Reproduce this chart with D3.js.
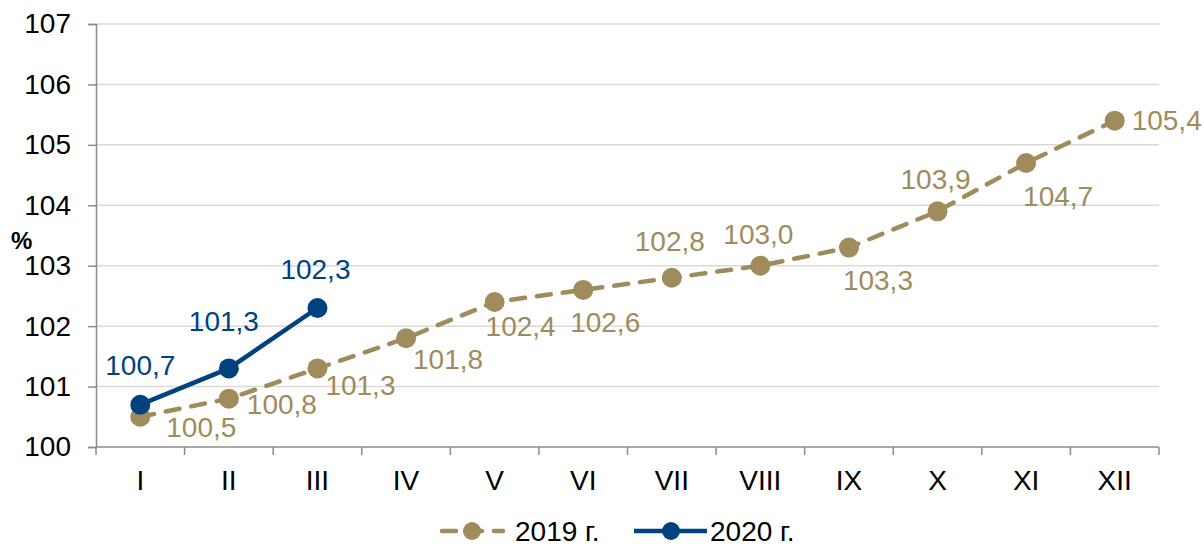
<!DOCTYPE html>
<html>
<head>
<meta charset="utf-8">
<script src="https://cdn.jsdelivr.net/npm/d3@7"></script>
<style>
  body { margin: 0; background: #fff; }
  svg { font-family: "Liberation Sans", Arial, sans-serif; }
</style>
</head>
<body>
<svg id="chart" width="1204" height="547"></svg>
<script>
const months = ["I", "II", "III", "IV", "V", "VI", "VII", "VIII", "IX", "X", "XI", "XII"];
const values2019 = [100.5, 100.8, 101.3, 101.8, 102.4, 102.6, 102.8, 103.0, 103.3, 103.9, 104.7, 105.4];
const values2020 = [100.7, 101.3, 102.3];
const yTicks = [100, 101, 102, 103, 104, 105, 106, 107];
// label offsets (dx, dy) relative to the point, as placed in the original
const labelOffsets2019 = [[61, 10], [53, 6], [43, 17], [42, 21], [26, 24], [22, 32], [-2, -37], [-2, -32], [29, 33], [-2, -32], [32, 33], [52, 0]];
const labelOffsets2020 = [[0, -40], [-5, -47], [-2, -39]];

const gold = "#a08b5c", blue = "#00427f";
const fs = 28;
const svg = d3.select("#chart");
const margin = {top: 24, right: 45, bottom: 100, left: 96};
const w = 1204 - margin.left - margin.right;
const h = 547 - margin.top - margin.bottom;
const g = svg.append("g").attr("transform", "translate(" + margin.left + "," + margin.top + ")");

const x = d3.scaleBand().domain(months).range([0, w]);
const y = d3.scaleLinear().domain([100, 107]).range([h, 0]);
const fmt = v => d3.format(".1f")(v).replace(".", ",");

// grid
g.append("g").selectAll("line").data(yTicks.slice(1)).enter().append("line")
  .attr("x1", 0).attr("x2", w)
  .attr("y1", d => y(d)).attr("y2", d => y(d))
  .attr("stroke", "#d9d9d9").attr("stroke-width", 1.5);

// y axis
const yAxis = g.append("g").call(d3.axisLeft(y).tickValues(yTicks).tickSize(8).tickPadding(17).tickFormat(d3.format("d")));
yAxis.select(".domain").attr("stroke", "#8c8c8c").attr("stroke-width", 1.5);
yAxis.selectAll(".tick line").attr("stroke", "#8c8c8c").attr("stroke-width", 1.5);
yAxis.selectAll("text").attr("font-size", fs).attr("fill", "#000").attr("font-family", "Liberation Sans, Arial, sans-serif");

// x axis, ticks at band boundaries
const xAxis = g.append("g").attr("transform", "translate(0," + h + ")");
xAxis.append("line").attr("x1", 0).attr("x2", w).attr("stroke", "#8c8c8c").attr("stroke-width", 1.5);
xAxis.selectAll("line.tk").data(d3.range(months.length + 1)).enter().append("line")
  .attr("class", "tk")
  .attr("x1", i => i * x.step()).attr("x2", i => i * x.step())
  .attr("y1", 0).attr("y2", 8)
  .attr("stroke", "#8c8c8c").attr("stroke-width", 1.5);
xAxis.selectAll("text").data(months).enter().append("text")
  .attr("x", d => x(d) + x.bandwidth() / 2).attr("y", 43)
  .attr("text-anchor", "middle").attr("font-size", fs).attr("fill", "#000")
  .text(d => d);

// y label
svg.append("text").attr("x", 11).attr("y", 249).attr("font-size", 24).attr("font-weight", "bold").text("%");

const line = d3.line().x((d, i) => x(months[i]) + x.bandwidth() / 2).y(d => y(d));

function drawSeries(vals, color, dashed, offsets) {
  g.append("path").datum(vals).attr("d", line)
    .attr("fill", "none").attr("stroke", color).attr("stroke-width", 4.5)
    .attr("stroke-linecap", dashed ? "round" : "butt")
    .attr("stroke-dasharray", dashed ? "14,12" : null);
  g.append("g").selectAll("circle").data(vals).enter().append("circle")
    .attr("cx", (d, i) => x(months[i]) + x.bandwidth() / 2)
    .attr("cy", d => y(d)).attr("r", 10).attr("fill", color);
  g.append("g").selectAll("text").data(vals).enter().append("text")
    .attr("x", (d, i) => x(months[i]) + x.bandwidth() / 2 + offsets[i][0])
    .attr("y", (d, i) => y(d) + offsets[i][1])
    .attr("dy", "0.35em").attr("text-anchor", "middle")
    .attr("font-size", fs).attr("fill", color)
    .text(d => fmt(d));
}

drawSeries(values2019, gold, true, labelOffsets2019);
drawSeries(values2020, blue, false, labelOffsets2020);

// legend
const legend = svg.append("g").attr("transform", "translate(0,531)");
legend.append("line").attr("x1", 442).attr("x2", 503).attr("stroke", gold).attr("stroke-width", 4.5)
  .attr("stroke-linecap", "round").attr("stroke-dasharray", "14,12");
legend.append("circle").attr("cx", 472).attr("r", 9).attr("fill", gold);
legend.append("text").attr("x", 515).attr("y", 10).attr("font-size", fs).text("2019 г.");
legend.append("line").attr("x1", 634).attr("x2", 707).attr("stroke", blue).attr("stroke-width", 4.5);
legend.append("circle").attr("cx", 671).attr("r", 9).attr("fill", blue);
legend.append("text").attr("x", 710).attr("y", 10).attr("font-size", fs).text("2020 г.");
</script>
</body>
</html>
